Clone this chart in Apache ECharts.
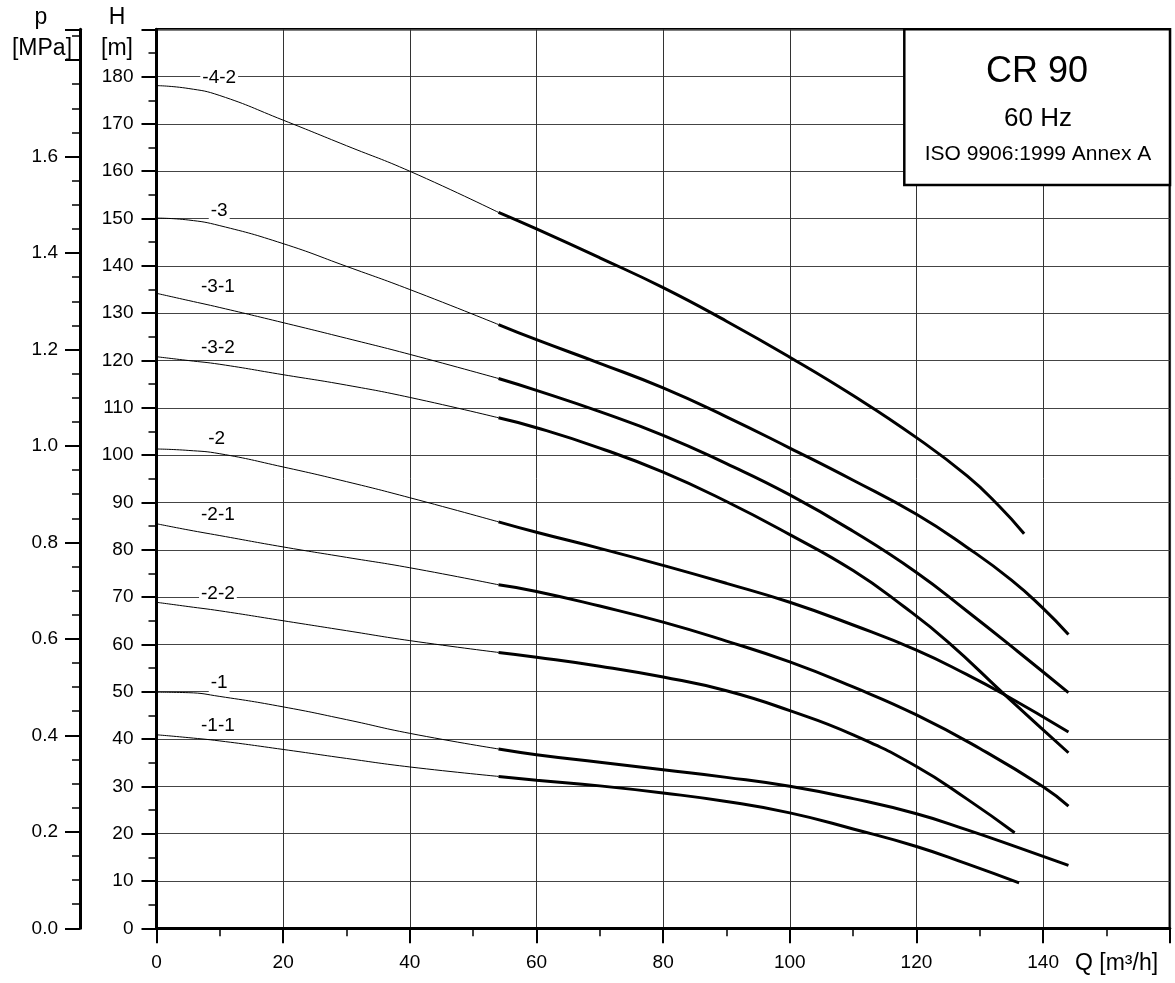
<!DOCTYPE html>
<html>
<head>
<meta charset="utf-8">
<script src="https://cdn.jsdelivr.net/npm/echarts@6/dist/echarts.min.js"></script>
<style>
html,body{margin:0;padding:0;background:#fff;}
#chart{width:1175px;height:983px;}
</style>
</head>
<body>
<div id="chart"></div>
<script>
// ---- data ----
const curveNames = ['-4-2', '-3', '-3-1', '-3-2', '-2', '-2-1', '-2-2', '-1', '-1-1'];
// thin (low-flow) part, common flow points
const thinQ = [0, 5, 10, 20, 30, 40, 54];
const thinH = [
  [178.1, 177.5, 176.0, 170.8, 165.4, 160.0, 151.3],
  [150.1, 149.7, 148.5, 144.7, 139.9, 135.0, 127.6],
  [134.2, 132.7, 131.2, 128.0, 124.7, 121.3, 116.2],
  [120.8, 120.0, 119.2, 117.0, 114.8, 112.2, 107.9],
  [101.3, 101.0, 100.3, 97.5, 94.4, 91.0, 85.9],
  [85.5, 84.2, 83.0, 80.6, 78.4, 76.2, 72.6],
  [68.9, 68.0, 67.1, 65.0, 62.9, 60.8, 58.3],
  [49.9, 49.8, 49.0, 46.8, 44.1, 41.2, 37.9],
  [40.9, 40.3, 39.6, 37.8, 35.9, 34.1, 32.1]
];
// thick (operating range) part
const thickQ = [
  [54, 60, 70, 80, 90, 100, 110, 120, 128, 133, 137],
  [54, 60, 70, 80, 90, 100, 110, 120, 128, 135, 140, 144],
  [54, 60, 70, 80, 90, 100, 110, 120, 128, 136, 144],
  [54, 60, 70, 80, 90, 100, 110, 118, 125, 134, 144],
  [54, 60, 70, 80, 90, 100, 110, 120, 128, 134, 144],
  [54, 60, 70, 80, 90, 100, 110, 120, 130, 140, 144],
  [54, 60, 70, 80, 90, 100, 110, 120, 128, 135.5],
  [54, 60, 70, 80, 90, 100, 110, 120, 128, 136, 144],
  [54, 60, 70, 80, 90, 100, 110, 120, 128, 136.2]
];
const thickH = [
  [151.3, 147.8, 141.7, 135.4, 128.3, 120.7, 112.6, 103.7, 95.6, 89.3, 83.4],
  [127.6, 124.4, 119.4, 114.2, 108.1, 101.5, 94.7, 87.5, 80.5, 73.6, 67.6, 62.1],
  [116.2, 113.7, 109.2, 104.2, 98.2, 91.6, 83.9, 75.2, 67.0, 58.5, 49.8],
  [107.9, 105.8, 101.5, 96.4, 90.2, 83.2, 75.6, 68.0, 60.5, 49.3, 37.1],
  [85.9, 83.7, 80.3, 76.7, 72.9, 68.9, 64.1, 58.8, 53.6, 49.3, 41.5],
  [72.6, 71.2, 68.1, 64.7, 60.7, 56.3, 51.0, 45.1, 38.0, 29.9, 25.8],
  [58.3, 57.3, 55.4, 53.1, 50.2, 46.0, 40.9, 34.2, 27.3, 20.2],
  [37.9, 36.7, 35.1, 33.5, 31.9, 30.0, 27.4, 24.2, 20.8, 17.1, 13.3],
  [32.1, 31.3, 30.1, 28.6, 26.8, 24.4, 21.0, 17.3, 13.6, 9.6]
];
// curve label anchors (Q, H)
const labelQ = [9.9, 9.9, 9.7, 9.7, 9.5, 9.7, 9.7, 9.9, 9.7];
const labelH = [179.7, 151.6, 135.6, 122.7, 103.4, 87.3, 70.7, 51.9, 42.8];
// axes
const qTicks = {min: 0, max: 160, interval: 20};
const hTicks = {min: 0, max: 190, interval: 10};
const mPerMPa = 101.94;
const titleLines = ['CR 90', '60 Hz', 'ISO 9906:1999 Annex A'];

// ---- chart ----
const FONT = '"Liberation Sans", Arial, Helvetica, sans-serif';
const chart = echarts.init(document.getElementById('chart'), null, {renderer: 'canvas'});
const zip = (xs, ys) => xs.map((x, i) => [x, ys[i]]);
const series = [];
curveNames.forEach((n, i) => {
  series.push({
    type: 'line', name: n + ' thin', data: zip(thinQ, thinH[i]),
    showSymbol: false, smooth: 0.5,
    lineStyle: {color: '#000', width: 1}, silent: true, z: 5
  });
  series.push({
    type: 'line', name: n, data: zip(thickQ[i], thickH[i]),
    showSymbol: false, smooth: 0.5,
    lineStyle: {color: '#000', width: 3, cap: 'butt'}, silent: true, z: 6
  });
});
series.push({
  type: 'scatter', data: zip(labelQ, labelH), symbol: 'rect', symbolSize: 0.5,
  itemStyle: {color: '#fff', opacity: 1}, silent: true, z: 10,
  label: {
    show: true, position: 'inside', color: '#000', fontSize: 19, fontFamily: FONT,
    backgroundColor: '#fff', padding: [0, 2, 0, 2],
    formatter: p => curveNames[p.dataIndex]
  }
});

const axisLabelStyle = {color: '#000', fontSize: 19, fontFamily: FONT};
const txt = (x, y, s, size, z) => ({type: 'text', z: z || 100, x: x, y: y,
  style: {text: s, fill: '#000', font: size + 'px ' + FONT, align: 'center', verticalAlign: 'middle'}});

chart.setOption({
  animation: false,
  backgroundColor: '#fff',
  grid: {left: 156.5, top: 29.3, width: 1013.3, height: 899, show: true,
         borderColor: '#000', borderWidth: 2.5, backgroundColor: 'transparent'},
  xAxis: {
    type: 'value', min: qTicks.min, max: qTicks.max, interval: qTicks.interval,
    axisLine: {show: true, onZero: false, lineStyle: {color: '#000', width: 3}},
    axisTick: {show: true, length: 15, lineStyle: {color: '#000', width: 2}},
    minorTick: {show: true, splitNumber: 2, length: 8, lineStyle: {color: '#000', width: 1.5}},
    splitLine: {show: true, lineStyle: {color: '#333', width: 1}},
    axisLabel: Object.assign({margin: 25, formatter: v => (v >= qTicks.max ? '' : String(v))}, axisLabelStyle)
  },
  yAxis: [{
    type: 'value', position: 'left', min: hTicks.min, max: hTicks.max, interval: hTicks.interval,
    axisLine: {show: true, onZero: false, lineStyle: {color: '#000', width: 3}},
    axisTick: {show: true, length: 15, lineStyle: {color: '#000', width: 2}},
    minorTick: {show: true, splitNumber: 2, length: 8, lineStyle: {color: '#000', width: 1.5}},
    splitLine: {show: true, lineStyle: {color: '#444', width: 1}},
    axisLabel: Object.assign({margin: 23, formatter: v => (v > 180 ? '' : String(v))}, axisLabelStyle)
  }, {
    type: 'value', position: 'left', offset: 76.5,
    min: 0, max: hTicks.max / mPerMPa, interval: 0.2,
    axisLine: {show: true, onZero: false, lineStyle: {color: '#000', width: 3}},
    axisTick: {show: true, length: 15, lineStyle: {color: '#000', width: 2}},
    minorTick: {show: true, splitNumber: 4, length: 8, lineStyle: {color: '#000', width: 1.5}},
    splitLine: {show: false},
    axisLabel: Object.assign({margin: 22, showMaxLabel: false, formatter: v => (v > 1.7 ? '' : v.toFixed(1))}, axisLabelStyle)
  }],
  series: series,
  graphic: [
    txt(41, 18, 'p', 23),
    txt(42, 49, '[MPa]', 23),
    txt(117, 18, 'H', 23),
    txt(117, 49, '[m]', 23),
    {type: 'text', z: 100, x: 1075, y: 964,
     style: {text: 'Q [m³/h]', fill: '#000', font: '23px ' + FONT, align: 'left', verticalAlign: 'middle'}},
    {type: 'rect', z: 100, shape: {x: 904.3, y: 29.3, width: 265.7, height: 155.7},
     style: {fill: '#fff', stroke: '#000', lineWidth: 2.5}},
    txt(1037, 72, titleLines[0], 36, 101),
    txt(1038, 119, titleLines[1], 26, 101),
    txt(1038, 154, titleLines[2], 21, 101)
  ]
});
</script>
</body>
</html>
